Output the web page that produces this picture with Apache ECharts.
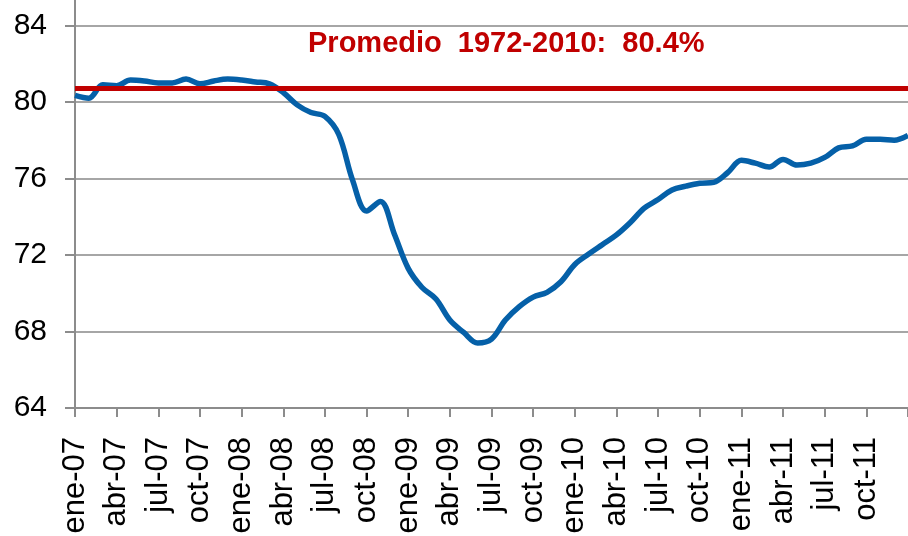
<!DOCTYPE html>
<html>
<head>
<meta charset="utf-8">
<script src="https://cdn.jsdelivr.net/npm/echarts@6/dist/echarts.min.js"></script>
<style>
  html, body { margin: 0; padding: 0; background: #fff; overflow: hidden; }
  /* chart is taller than the window; its top (the 88 line) sits above the visible area */
  #chart { width: 908px; height: 587px; margin-top: -51px; }
</style>
</head>
<body>
<div id="chart"></div>
<script>
// months ene-07 .. ene-12
const meses = ["ene", "feb", "mar", "abr", "may", "jun", "jul", "ago", "sep", "oct", "nov", "dic"];
const anios = ["07", "08", "09", "10", "11", "12"];
const categorias = [];
anios.forEach(a => meses.forEach(m => categorias.push(m + "-" + a)));
categorias.length = 61;

const utilizacion = [
  80.35, 80.2, 80.9, 80.85, 81.15, 81.1, 81.0, 81.0, 81.2, 80.95, 81.1, 81.2,
  81.15, 81.05, 80.95, 80.5, 79.85, 79.45, 79.25, 78.3, 75.9, 74.3, 74.8, 73.1,
  71.3, 70.3, 69.7, 68.6, 67.95, 67.4, 67.6, 68.6, 69.3, 69.8, 70.05, 70.6,
  71.5, 72.05, 72.55, 73.05, 73.7, 74.45, 74.9, 75.4, 75.6, 75.75, 75.8, 76.3,
  76.95, 76.8, 76.6, 77.0, 76.7, 76.8, 77.1, 77.6, 77.7, 78.05, 78.05, 78.0,
  78.25
];
const promedio = 80.72;
const promedioTexto = "Promedio  1972-2010:  80.4%";

const chart = echarts.init(document.getElementById("chart"));
chart.setOption({
  animation: false,
  grid: { left: 75, right: 0, top: 0, bottom: 128, containLabel: false, outerBoundsMode: "none" },
  xAxis: {
    type: "category",
    data: categorias,
    boundaryGap: false,
    axisLine: { lineStyle: { color: "#8c8c8c", width: 2 } },
    axisTick: {
      length: 9,
      interval: (i) => i % 3 === 0,
      lineStyle: { color: "#8c8c8c", width: 2 }
    },
    axisLabel: {
      interval: (i) => i % 3 === 0 && i < 60,
      rotate: 90,
      margin: 29,
      color: "#000",
      fontFamily: "Liberation Sans, Arial, sans-serif",
      fontSize: 31
    },
    splitLine: { show: false }
  },
  yAxis: {
    type: "value",
    min: 64,
    max: 88,
    interval: 4,
    axisLine: { show: true, lineStyle: { color: "#8c8c8c", width: 2 } },
    axisTick: { show: true, length: 10, lineStyle: { color: "#8c8c8c", width: 2 } },
    axisLabel: {
      margin: 28,
      color: "#000",
      fontFamily: "Liberation Sans, Arial, sans-serif",
      fontSize: 30
    },
    splitLine: { lineStyle: { color: "#a6a6a6", width: 2 } }
  },
  graphic: [{
    type: "text",
    left: 308,
    top: 80,
    style: {
      text: promedioTexto,
      fill: "#c00000",
      font: "bold 29px 'Liberation Sans', Arial, sans-serif"
    }
  }],
  series: [{
    type: "line",
    data: utilizacion,
    smooth: 0.35,
    symbol: "none",
    lineStyle: { color: "#0560a8", width: 5.5 },
    markLine: {
      silent: true,
      symbol: "none",
      label: { show: false },
      lineStyle: { color: "#c00000", width: 5, type: "solid" },
      data: [{ yAxis: promedio }]
    },
    z: 3
  }]
});
</script>
</body>
</html>
